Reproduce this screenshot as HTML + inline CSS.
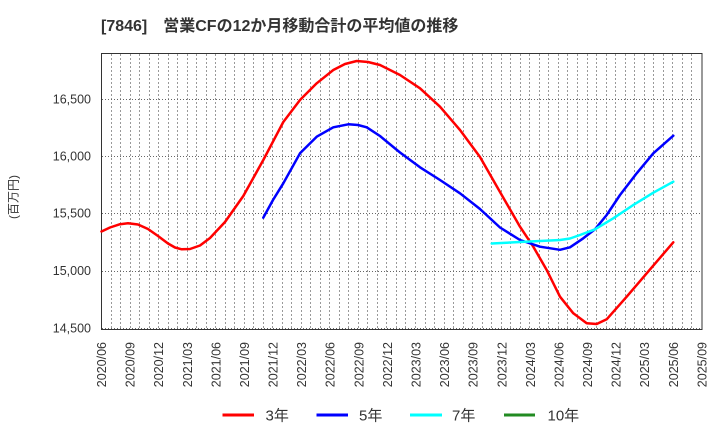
<!DOCTYPE html>
<html><head><meta charset="utf-8"><style>
html,body{margin:0;padding:0;background:#fff;}
svg{display:block;font-family:"Liberation Sans","Noto Sans CJK JP",sans-serif;}
</style></head><body>
<svg width="720" height="440" viewBox="0 0 720 440" xmlns="http://www.w3.org/2000/svg">
<rect width="720" height="440" fill="#fff"/>
<text x="101" y="31" font-size="16" font-weight="bold" fill="#333">[7846]　営業CFの12か月移動合計の平均値の推移</text>

<!-- vertical grid -->
<path fill="none" stroke="#999" stroke-width="1" stroke-dasharray="2,2" d="M111.5 54V329M120.5 54V329M130.5 54V329M139.5 54V329M149.5 54V329M158.5 54V329M168.5 54V329M177.5 54V329M187.5 54V329M196.5 54V329M206.5 54V329M215.5 54V329M225.5 54V329M234.5 54V329M244.5 54V329M253.5 54V329M263.5 54V329M272.5 54V329M282.5 54V329M291.5 54V329M301.5 54V329M310.5 54V329M320.5 54V329M329.5 54V329M339.5 54V329M348.5 54V329M358.5 54V329M367.5 54V329M377.5 54V329M386.5 54V329M396.5 54V329M405.5 54V329M415.5 54V329M425.5 54V329M434.5 54V329M444.5 54V329M453.5 54V329M463.5 54V329M472.5 54V329M482.5 54V329M491.5 54V329M501.5 54V329M510.5 54V329M520.5 54V329M529.5 54V329M539.5 54V329M548.5 54V329M558.5 54V329M567.5 54V329M577.5 54V329M587.5 54V329M596.5 54V329M606.5 54V329M615.5 54V329M625.5 54V329M634.5 54V329M644.5 54V329M653.5 54V329M663.5 54V329M672.5 54V329M682.5 54V329M691.5 54V329"/>
<!-- horizontal grid -->
<path fill="none" stroke="#666" stroke-width="1" stroke-dasharray="1,2" d="M102 99.5H702M102 156.5H702M102 213.5H702M102 271.5H702M102 328.5H702"/>

<!-- axes frame -->
<rect x="101.5" y="53.5" width="600.5" height="276" fill="none" stroke="#333" stroke-width="1"/>

<!-- y labels -->
<g font-size="12.5" fill="#333" text-anchor="end">
<text x="91" y="103.5">16,500</text>
<text x="91" y="160.5">16,000</text>
<text x="91" y="217.5">15,500</text>
<text x="91" y="275">15,000</text>
<text x="91" y="332.5">14,500</text>
</g>
<text transform="translate(17.5,197) rotate(-90)" font-size="12" fill="#333" text-anchor="middle">(百万円)</text>

<!-- x labels -->
<g font-size="12.5" fill="#333" text-anchor="end">
<text transform="translate(106,342) rotate(-90)">2020/06</text>
<text transform="translate(134.6,342) rotate(-90)">2020/09</text>
<text transform="translate(163.2,342) rotate(-90)">2020/12</text>
<text transform="translate(191.8,342) rotate(-90)">2021/03</text>
<text transform="translate(220.4,342) rotate(-90)">2021/06</text>
<text transform="translate(249,342) rotate(-90)">2021/09</text>
<text transform="translate(277.5,342) rotate(-90)">2021/12</text>
<text transform="translate(306.1,342) rotate(-90)">2022/03</text>
<text transform="translate(334.7,342) rotate(-90)">2022/06</text>
<text transform="translate(363.3,342) rotate(-90)">2022/09</text>
<text transform="translate(391.9,342) rotate(-90)">2022/12</text>
<text transform="translate(420.5,342) rotate(-90)">2023/03</text>
<text transform="translate(449.1,342) rotate(-90)">2023/06</text>
<text transform="translate(477.7,342) rotate(-90)">2023/09</text>
<text transform="translate(506.3,342) rotate(-90)">2023/12</text>
<text transform="translate(534.9,342) rotate(-90)">2024/03</text>
<text transform="translate(563.4,342) rotate(-90)">2024/06</text>
<text transform="translate(592,342) rotate(-90)">2024/09</text>
<text transform="translate(620.6,342) rotate(-90)">2024/12</text>
<text transform="translate(649.2,342) rotate(-90)">2025/03</text>
<text transform="translate(677.8,342) rotate(-90)">2025/06</text>
<text transform="translate(706.4,342) rotate(-90)">2025/09</text>
</g>

<!-- series -->
<g fill="none" stroke-width="2.5" stroke-linejoin="round" stroke-linecap="round">
<polyline stroke="#ff0000" points="101.5,231.5 110,227.5 120,224.2 128,223.3 138,224.5 148,229 158,236 168,243.5 175,247.5 181.7,249.3 190,249 200,245.5 210,238 225,222 243.3,196 263.3,160 283.3,122 300,100 316.7,83.3 333.3,70 345,64 356.7,61 368,62 380,65 400,75 420,88.3 440,106.7 460,130 480,157 500,192 520,226.7 533.3,246.7 546.7,270 560,296.7 573.3,313.3 586.7,323.3 596.7,324 606.7,319.3 626.7,296.7 646.7,273.3 673.3,242.3"/>
<polyline stroke="#0000ff" points="263.3,217.7 273,200 283.3,183.3 300,153.3 316.7,136.7 333.3,127.3 348.3,124.3 358,125 366.7,127.3 380,136 400,152.5 420,167.3 440,180 460,193.3 480,209 500,227.5 520,240 540,246.7 560,249.8 570,247.3 583.3,238.3 595,229.3 606.7,215 620,195 636.7,173.3 653.3,153.3 673.3,135.7"/>
<polyline stroke="#00ffff" points="491.7,243.5 530,241.5 560,240 570,238.5 580,235 595,229.3 613.3,218.3 633.3,205 653.3,192.7 673.3,181.7"/>
</g>

<!-- legend -->
<g stroke-width="3">
<line x1="222.5" y1="415" x2="254" y2="415" stroke="#ff0000"/>
<line x1="316.5" y1="415" x2="348" y2="415" stroke="#0000ff"/>
<line x1="410" y1="415" x2="442" y2="415" stroke="#00ffff"/>
<line x1="504" y1="415" x2="535" y2="415" stroke="#228b22"/>
</g>
<g font-size="15" fill="#333">
<text x="265.5" y="420.5">3年</text>
<text x="359" y="420.5">5年</text>
<text x="452" y="420.5">7年</text>
<text x="547.5" y="420.5">10年</text>
</g>
</svg>
</body></html>
